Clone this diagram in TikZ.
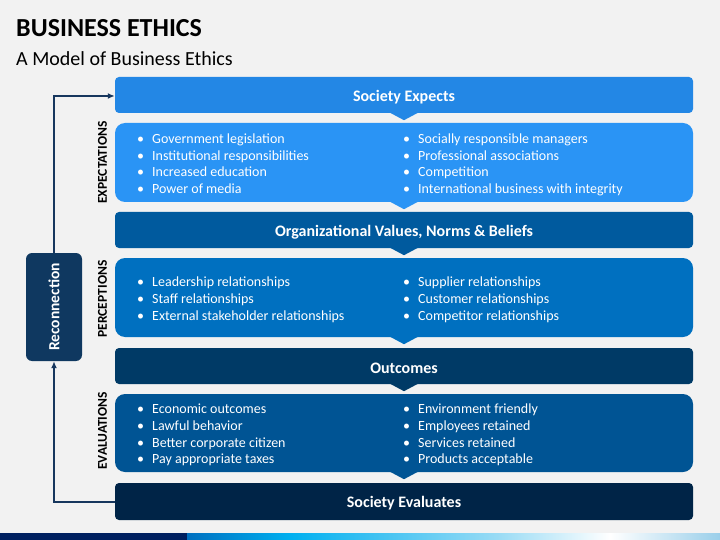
\documentclass[tikz,border=0pt]{standalone}
\usepackage{fontspec}
\setmainfont{Carlito}
\usetikzlibrary{arrows.meta}
\definecolor{bg}{HTML}{F2F2F2}
\definecolor{cSE}{HTML}{2387E5}
\definecolor{cEXP}{HTML}{2A94F5}
\definecolor{cOV}{HTML}{005A9E}
\definecolor{cPER}{HTML}{0070C0}
\definecolor{cOUT}{HTML}{003A66}
\definecolor{cEVA}{HTML}{005494}
\definecolor{cSEV}{HTML}{002447}
\definecolor{cREC}{HTML}{0F3860}
\definecolor{cARR}{HTML}{17375E}
\definecolor{navy}{HTML}{002060}
\definecolor{gA}{HTML}{0070C0}
\definecolor{gB}{HTML}{00B0F0}
\definecolor{gC}{HTML}{9BDCF5}
\definecolor{gD}{HTML}{9ACFEA}
\tikzset{
  bar/.style={rectangle, minimum width=578pt, minimum height=36pt, rounded corners=4pt, inner sep=0pt,
    text=white, font=\fontsize{16}{19}\selectfont\bfseries},
  panel/.style={rectangle, minimum width=578pt, minimum height=79pt, rounded corners=10pt, inner sep=0pt},
  sidelabel/.style={rotate=90, font=\fontsize{13.5}{15}\selectfont\bfseries, text=black, inner sep=0pt},
  item/.style={anchor=mid west, inner sep=0pt, text=white, font=\fontsize{14}{16}\selectfont},
  link/.style={draw=cARR, line width=2pt, -{Latex[length=7pt,width=6pt]}},
}
\newcommand{\notch}[2]{\fill[#2] ([xshift=-15pt,yshift=1pt]#1.south) -- ([xshift=15pt,yshift=1pt]#1.south) -- ([yshift=-7pt]#1.south) -- cycle;}
\newcommand{\blt}{\makebox[15pt][l]{•}}
\newcommand{\dn}[1]{\raisebox{-2pt}[\height][\depth]{#1}}
\begin{document}
\begin{tikzpicture}[x=1pt,y=-1pt]
\useasboundingbox (0,0) rectangle (720,540);
\fill[bg] (0,0) rectangle (720,540);
% title
\node[anchor=base west, inner sep=0pt, font=\fontsize{26}{29}\selectfont\bfseries] (title) at (16,36.5) {BUSINESS ETHICS};
\node[anchor=base west, inner sep=0pt, font=\fontsize{20}{23}\selectfont] (subtitle) at (16,65.5) {A Model of Business Ethics};
% bars and panels
\node[bar, fill=cSE] (se) at (404,95) {\dn{Society Expects}};
\node[panel, fill=cEXP] (exp) at (404,162.5) {};
\node[bar, fill=cOV] (ov) at (404,230) {\dn{Organizational Values, Norms \& Beliefs}};
\node[panel, fill=cPER] (per) at (404,297.5) {};
\node[bar, fill=cOUT] (out) at (404,366) {\dn{Outcomes}};
\node[panel, fill=cEVA, minimum height=78pt] (eva) at (404,433) {};
\node[bar, fill=cSEV, minimum height=37pt] (sev) at (404,501.5) {\dn{Society Evaluates}};
\notch{se}{cSE}
\notch{exp}{cEXP}
\notch{ov}{cOV}
\notch{per}{cPER}
\notch{out}{cOUT}
\notch{eva}{cEVA}
% side labels
\node[sidelabel] (lexp) at (102.5,162.5) {EXPECTATIONS};
\node[sidelabel] (lper) at (102.5,299) {PERCEPTIONS};
\node[sidelabel] (leva) at (102.5,431) {EVALUATIONS};
% bullets
\foreach \t [count=\i] in {Government legislation, Institutional responsibilities, Increased education, Power of media}
  \node[item] (expL\i) at (137,141+16.8*\i-16.8) {\blt\t};
\foreach \t [count=\i] in {Socially responsible managers, Professional associations, Competition, International business with integrity}
  \node[item] (expR\i) at (403,141+16.8*\i-16.8) {\blt\t};
\foreach \t [count=\i] in {Leadership relationships, Staff relationships, External stakeholder relationships}
  \node[item] (perL\i) at (137,284.5+16.7*\i-16.7) {\blt\t};
\foreach \t [count=\i] in {Supplier relationships, Customer relationships, Competitor relationships}
  \node[item] (perR\i) at (403,284.5+16.7*\i-16.7) {\blt\t};
\foreach \t [count=\i] in {Economic outcomes, Lawful behavior, Better corporate citizen, Pay appropriate taxes}
  \node[item] (evaL\i) at (137,411.3+16.7*\i-16.7) {\blt\t};
\foreach \t [count=\i] in {Environment friendly, Employees retained, Services retained, Products acceptable}
  \node[item] (evaR\i) at (403,411.3+16.7*\i-16.7) {\blt\t};
% reconnection
\node[rectangle, rounded corners=6pt, fill=cREC, minimum width=56pt, minimum height=108pt, inner sep=0pt] (rec) at (54,307) {};
\node[rotate=90, text=white, font=\fontsize{15.5}{18}\selectfont\bfseries, inner sep=0pt] (rectext) at (rec.center) {Reconnection};
\coordinate (cb) at (54,502);
\coordinate (ct) at (54,96);
\draw[link] (sev.west |- cb) -- (cb) -- (rec.south);
\draw[link] (rec.north) -- (ct) -- (se.west |- ct);
% bottom bar
\fill[navy] (0,533) rectangle (187,540);
\shade[left color=gA, right color=gB] (187,533) rectangle (290.5,540);
\shade[left color=gB, right color=gC] (290,533) rectangle (500.5,540);
\shade[left color=gC, right color=white] (500,533) rectangle (610.5,540);
\shade[left color=white, right color=gD] (610,533) rectangle (720,540);
\end{tikzpicture}
\end{document}
